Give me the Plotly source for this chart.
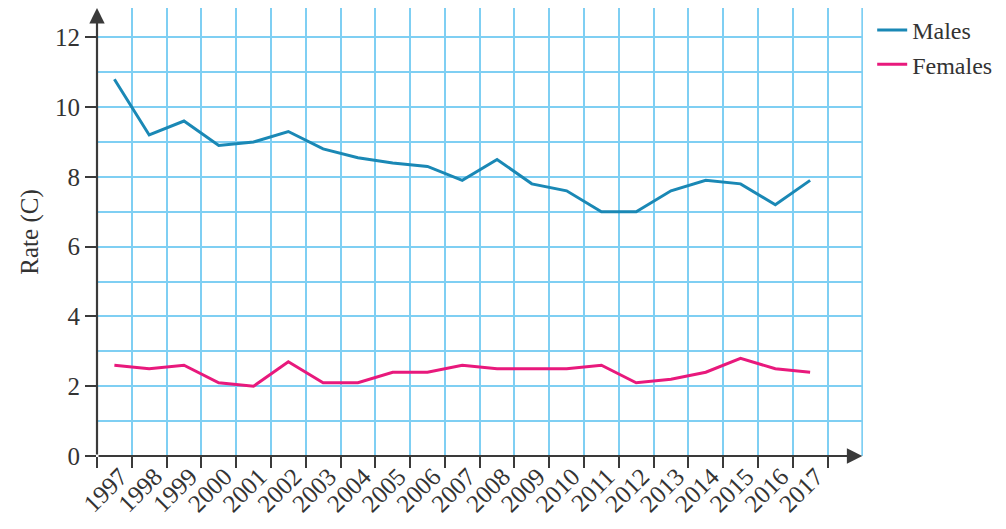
import plotly.graph_objects as go

# Rates by year
years = list(range(1997, 2018))
males = [10.8, 9.2, 9.6, 8.9, 9.0, 9.3, 8.8, 8.55, 8.4, 8.3, 7.9,
         8.5, 7.8, 7.6, 7.0, 7.0, 7.6, 7.9, 7.8, 7.2, 7.9]
females = [2.6, 2.5, 2.6, 2.1, 2.0, 2.7, 2.1, 2.1, 2.4, 2.4, 2.6,
           2.5, 2.5, 2.5, 2.6, 2.1, 2.2, 2.4, 2.8, 2.5, 2.4]
y_ticks = [0, 2, 4, 6, 8, 10, 12]

# each year sits in the middle of a grid cell
xpos = [i + 0.5 for i in range(len(years))]
n_cells = len(years) + 1
y_top = 12.84

grid_col = "#7fcff3"
axis_col = "#3a3a3a"
font_fam = "Liberation Serif, Times New Roman, serif"
fsize = 25

fig = go.Figure()
fig.add_trace(go.Scatter(x=xpos, y=males, mode="lines", name="Males",
                         line=dict(color="#1a88b5", width=3)))
fig.add_trace(go.Scatter(x=xpos, y=females, mode="lines", name="Females",
                         line=dict(color="#e8197c", width=3)))

# last vertical grid line at the right edge
fig.add_shape(type="line", xref="x", yref="y", x0=n_cells, x1=n_cells, y0=0, y1=y_top,
              line=dict(color=grid_col, width=2), layer="below")

# axis arrows
fig.add_annotation(x=n_cells, y=0, ax=0, ay=0, xref="x", yref="y", axref="x", ayref="y",
                   showarrow=True, arrowhead=2, arrowsize=1.4, arrowwidth=2.2,
                   arrowcolor=axis_col, text="")
fig.add_annotation(x=0, y=y_top, ax=0, ay=0, xref="x", yref="y", axref="x", ayref="y",
                   showarrow=True, arrowhead=2, arrowsize=1.4, arrowwidth=2.2,
                   arrowcolor=axis_col, text="")

fig.update_xaxes(
    range=[0, n_cells + 0.02], automargin=False,
    tickmode="array", tickvals=[p + 0.17 for p in xpos], ticktext=[str(y) for y in years],
    tickangle=-45, ticks="", showgrid=False, zeroline=False, showline=False,
    tickfont=dict(family=font_fam, size=fsize, color="#333"),
    minor=dict(tickmode="array", tickvals=list(range(len(years) + 1)),
               ticks="outside", ticklen=11, tickwidth=2, tickcolor=axis_col,
               showgrid=True, gridcolor=grid_col, gridwidth=2),
)
fig.update_yaxes(
    range=[0, y_top], automargin=False,
    tickmode="array", tickvals=y_ticks,
    ticks="outside", ticklen=11, tickwidth=2, tickcolor=axis_col,
    showgrid=True, gridcolor=grid_col, gridwidth=2, zeroline=False, showline=False,
    tickfont=dict(family=font_fam, size=fsize, color="#333"),
    title=dict(text="Rate (C)", font=dict(family=font_fam, size=fsize, color="#333"), standoff=9),
    minor=dict(dtick=1, tick0=0, showgrid=True, gridcolor=grid_col, gridwidth=2, ticks=""),
)

fig.update_layout(
    width=1006, height=529,
    margin=dict(l=89, r=151, t=0, b=81, autoexpand=False),
    plot_bgcolor="white", paper_bgcolor="white",
    showlegend=True,
    legend=dict(x=1.012, y=1.0, xanchor="left", yanchor="top",
                font=dict(family=font_fam, size=24, color="#333"),
                bgcolor="rgba(0,0,0,0)", tracegroupgap=0, itemwidth=30),
)

fig.write_html("out.html")
